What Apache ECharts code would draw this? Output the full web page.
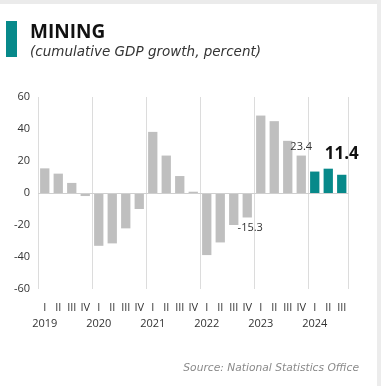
<!DOCTYPE html>
<html>
<head>
<meta charset="utf-8">
<script src="https://cdn.jsdelivr.net/npm/echarts@6/dist/echarts.min.js"></script>
<style>
  html, body { margin: 0; padding: 0; background: #fff; }
  #main { width: 381px; height: 386px; }
</style>
</head>
<body>
<div id="main"></div>
<script>
// quarters 2019 Q1 .. 2024 Q3
var quarters = ['I','II','III','IV','I','II','III','IV','I','II','III','IV',
                'I','II','III','IV','I','II','III','IV','I','II','III'];
var years = ['2019','2020','2021','2022','2023','2024'];
var growth = [15.4, 12.1, 6.3, -1.9,
              -33.0, -31.5, -22.1, -10.0,
              38.2, 23.4, 10.6, 0.8,
              -38.8, -30.9, -20.0, -15.3,
              48.4, 44.9, 32.6, 23.4,
              13.4, 15.2, 11.4];
var yTicks = [-60, 60, 20]; // min, max, step

var FONT = '"Open Sans", sans-serif';
var WIDE = '"DejaVu Sans", sans-serif';
var GREY = '#bfbfbf';
var TEAL = '#07898a';

// x labels: year goes under quarter I
var catLabels = quarters.map(function (q, i) {
  return i % 4 === 0 ? q + '\n' + years[i / 4] : q;
});

var barData = growth.map(function (v, i) {
  var item = { value: v, itemStyle: { color: i >= 20 ? TEAL : GREY } };
  if (i === 15) {
    item.label = { show: true, position: 'bottom', distance: 5, offset: [3, 0],
      color: '#333', fontSize: 11, fontFamily: FONT };
  }
  if (i === 19) {
    item.label = { show: true, position: 'top', distance: 3,
      color: '#333', fontSize: 11, fontFamily: FONT };
  }
  if (i === 22) {
    item.label = { show: true, position: 'top', distance: 12,
      color: '#111', fontSize: 17, fontWeight: 'bold', fontFamily: FONT };
  }
  return item;
});

var myChart = echarts.init(document.getElementById('main'));
myChart.setOption({
  animation: false,
  title: {
    text: 'MINING',
    subtext: '(cumulative GDP growth, percent)',
    left: 25,
    top: 18,
    itemGap: 3,
    textStyle: { fontFamily: FONT, fontSize: 19, fontWeight: 'bold', color: '#111' },
    subtextStyle: { fontFamily: WIDE, fontSize: 13.5, fontStyle: 'italic', color: '#333' }
  },
  graphic: [
    { type: 'rect', left: 0, top: 0, shape: { width: 381, height: 4 }, style: { fill: '#ebebeb' } },
    { type: 'rect', left: 377, top: 0, shape: { width: 4, height: 386 }, style: { fill: '#ececec' } },
    { type: 'rect', left: 6, top: 21, shape: { width: 11, height: 36 }, style: { fill: TEAL } },
    { type: 'text', right: 22, top: 363,
      style: { text: 'Source: National Statistics Office', fontFamily: WIDE,
        fontSize: 10.7, fontStyle: 'italic', fill: '#8a8a8a' } }
  ],
  grid: { left: 38, right: 32.5, top: 97, bottom: 97, containLabel: false },
  xAxis: {
    type: 'category',
    data: catLabels,
    axisLine: { show: false },
    axisTick: { show: false },
    axisLabel: {
      interval: 0, margin: 11, color: '#333', fontSize: 11, lineHeight: 16,
      fontFamily: FONT
    },
    splitLine: {
      show: true,
      interval: function (i) { return i % 4 === 0; },
      lineStyle: { color: '#dcdcdc', width: 1 }
    }
  },
  yAxis: {
    type: 'value',
    min: yTicks[0], max: yTicks[1], interval: yTicks[2],
    axisLine: { show: false },
    axisTick: { show: false },
    splitLine: { show: false },
    axisLabel: { margin: 8, color: '#333', fontSize: 11, fontFamily: FONT }
  },
  series: [{
    type: 'bar',
    data: barData,
    barCategoryGap: '31%',
    markLine: {
      silent: true,
      symbol: 'none',
      label: { show: false },
      lineStyle: { color: '#cfcfcf', width: 1, type: 'solid' },
      data: [{ yAxis: 0 }]
    }
  }]
});
</script>
</body>
</html>
